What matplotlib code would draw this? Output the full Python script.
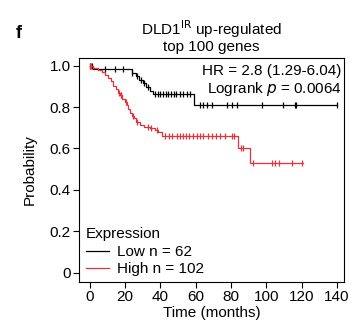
import numpy as np
import matplotlib
matplotlib.use("Agg")
import matplotlib.pyplot as plt

plt.rcParams['font.family'] = ['Liberation Sans', 'DejaVu Sans']

# ------------------------------------------------------
# Kaplan-Meier steps
# ------------------------------------------------------
low_t = [0, 2, 24, 26, 28, 30, 32, 34, 36, 59, 140]
low_p = [1.0, 0.983, 0.966, 0.949, 0.932, 0.915, 0.898, 0.879, 0.861, 0.81, 0.81]
low_cens = [0.5, 1.5, 9, 14.5, 19, 24, 27, 29, 31, 33, 37, 38.5, 40, 41.5, 43, 44.5,
            46, 47.5, 49, 51, 53, 55, 57, 62.5, 64.4, 66.3, 69.2, 77.6, 80.4, 83.3,
            97.4, 109.6, 116.2, 116.8, 139.8]

high_t = [0, 2, 5, 7, 9, 10.5, 12, 13.5, 15, 16, 17.3, 18.5, 20, 21, 22, 23, 24, 25,
          26.5, 28.5, 31, 34, 37, 39, 41, 84, 91, 121]
high_p = [1.0, 0.99, 0.98, 0.97, 0.954, 0.94, 0.925, 0.9, 0.885, 0.87, 0.858, 0.84,
          0.826, 0.81, 0.79, 0.77, 0.755, 0.745, 0.73, 0.713, 0.705, 0.697, 0.687,
          0.678, 0.662, 0.60, 0.53, 0.53]
high_cens = [0.5, 1, 16.5, 17.5, 18, 20.5, 24.5, 27, 33, 35, 38, 42.8, 44.7, 46.6,
             49.4, 51.2, 53.1, 54.6, 56.5, 58.4, 60.7, 62.5, 64.4, 67.2, 69.1, 71.5,
             73.8, 76.6, 80.4, 81.8, 85.5, 87, 92.7, 103, 104.9, 107.4, 114.3, 120]

labels = ["Low n = 62", "High n = 102"]
colors = ["black", "#e8313a"]

FS = 11


def step_value(times, probs, t):
    idx = np.searchsorted(times, t, side='right') - 1
    return np.asarray(probs)[idx]


fig = plt.figure(figsize=(3.52, 3.28), dpi=100)
ax = fig.add_axes([0.2244, 0.1402, 0.7529, 0.683])

for t, p, cens, lab, col in [(low_t, low_p, low_cens, labels[0], colors[0]),
                             (high_t, high_p, high_cens, labels[1], colors[1])]:
    ax.step(t, p, where='post', color=col, lw=0.9, label=lab)
    ax.plot(cens, step_value(t, p, cens), ls='none', marker='|', ms=4.5,
            mew=0.9, color=col)

ax.set_xlim(-6, 144)
ax.set_ylim(-0.045, 1.037)
ax.set_xticks(np.arange(0, 141, 20))
ax.set_yticks([0, 0.2, 0.4, 0.6, 0.8, 1.0])
ax.set_yticklabels(["0", "0.2", "0.4", "0.6", "0.8", "1.0"])
ax.tick_params(labelsize=FS, length=4, width=0.8, pad=2)
for s in ax.spines.values():
    s.set_linewidth(0.8)

ax.set_xlabel("Time (months)", fontsize=FS, labelpad=1.5)
ax.set_ylabel("Probability", fontsize=FS, labelpad=9)
ax.set_title("DLD1$^{\\mathrm{IR}}$ up-regulated\ntop 100 genes", fontsize=FS,
             linespacing=1.0, pad=5)

ax.text(0.99, 0.975, "HR = 2.8 (1.29-6.04)\nLogrank $p$ = 0.0064", transform=ax.transAxes,
        ha='right', va='top', fontsize=FS, linespacing=1.2)

leg = ax.legend(loc='lower left', bbox_to_anchor=(0.025, 0.025), frameon=False,
                title="Expression", fontsize=FS, title_fontsize=FS,
                handlelength=1.5, handletextpad=0.55, labelspacing=0.23,
                borderaxespad=0, borderpad=0)
leg._legend_box.align = "left"

fig.text(0.045, 0.885, "f", fontsize=13, fontweight='bold')

fig.savefig("out.png", dpi=100)
